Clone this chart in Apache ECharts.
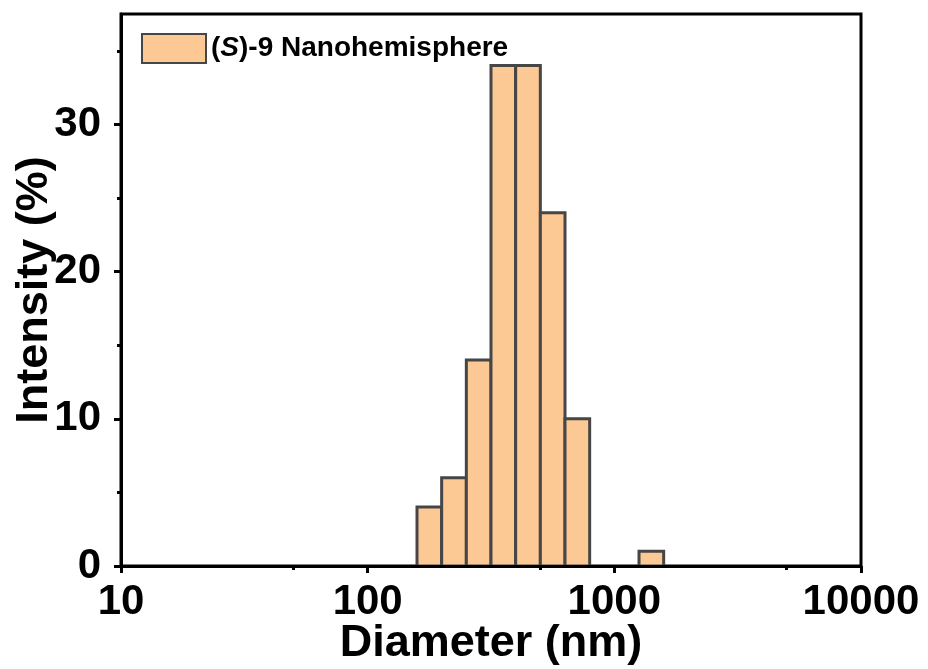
<!DOCTYPE html>
<html>
<head>
<meta charset="utf-8">
<script src="https://cdn.jsdelivr.net/npm/echarts@6/dist/echarts.min.js"></script>
<style>
  html, body { margin: 0; padding: 0; background: #fff; }
  #chart { width: 928px; height: 669px; }
</style>
</head>
<body>
<div id="chart"></div>
<script>
// Size distribution bins (diameter in nm, log-spaced) and intensity in %
const binLower = [158.5, 199.5, 251.2, 316.2, 398.1, 501.2, 631.0, 1259];
const binUpper = [199.5, 251.2, 316.2, 398.1, 501.2, 631.0, 794.3, 1585];
const intensity = [4, 6, 14, 34, 34, 24, 10, 1];

const xMajorTicks = [10, 100, 1000, 10000];
const xMinorTicks = [50, 500, 5000];
const yMajorTicks = [0, 10, 20, 30];
const yMinorTicks = [5, 15, 25, 35];

const seriesName = '(S)-9 Nanohemisphere';

const FONT = '"Liberation Sans", Arial, Helvetica, sans-serif';
const FILL = '#FCC995';
const EDGE = '#464646';

const histData = intensity.map((v, i) => [binLower[i], binUpper[i], v]);

const chart = echarts.init(document.getElementById('chart'), null, { renderer: 'canvas' });

const tickStyle = { color: '#000', width: 3 };

chart.setOption({
  animation: false,
  backgroundColor: '#fff',
  grid: {
    left: 121, right: 67, top: 14, bottom: 103,
    containLabel: false, outerBoundsMode: 'none',
    show: true, borderColor: '#000', borderWidth: 3, backgroundColor: 'transparent'
  },
  legend: {
    left: 141, top: 33, padding: 0,
    itemWidth: 64, itemHeight: 29,
    icon: 'rect',
    data: [seriesName],
    formatter: () => '({it|S})-9 Nanohemisphere',
    textStyle: {
      fontFamily: FONT, fontWeight: 'bold', fontSize: 28, color: '#000',
      rich: { it: { fontFamily: FONT, fontWeight: 'bold', fontStyle: 'italic', fontSize: 28, color: '#000' } }
    }
  },
  xAxis: [
    {
      type: 'log', logBase: 10, min: 10, max: 10000, z: 5,
      name: 'Diameter (nm)', nameLocation: 'middle', nameGap: 55, nameMoveOverlap: false,
      nameTextStyle: { fontFamily: FONT, fontWeight: 'bold', fontSize: 45, color: '#000' },
      axisLine: { show: true, lineStyle: { color: '#000', width: 3 } },
      axisTick: { show: true, inside: false, length: 7, lineStyle: tickStyle, customValues: xMajorTicks },
      axisLabel: {
        margin: 15, customValues: xMajorTicks, formatter: v => String(Math.round(v)),
        fontFamily: FONT, fontWeight: 'bold', fontSize: 42, color: '#000'
      },
      splitLine: { show: false }
    },
    {
      type: 'log', logBase: 10, min: 10, max: 10000, position: 'bottom', z: 5,
      axisLine: { show: false },
      axisTick: { show: true, length: 4, lineStyle: tickStyle, customValues: xMinorTicks },
      axisLabel: { show: false },
      splitLine: { show: false }
    }
  ],
  yAxis: [
    {
      type: 'value', min: 0, max: 37.5, z: 5,
      name: 'Intensity (%)', nameLocation: 'middle', nameGap: 64, nameMoveOverlap: false,
      nameTextStyle: { fontFamily: FONT, fontWeight: 'bold', fontSize: 45, color: '#000' },
      axisLine: { show: true, lineStyle: { color: '#000', width: 3 } },
      axisTick: { show: true, inside: false, length: 7, lineStyle: tickStyle, customValues: yMajorTicks },
      axisLabel: {
        margin: 20, customValues: yMajorTicks,
        fontFamily: FONT, fontWeight: 'bold', fontSize: 42, color: '#000'
      },
      splitLine: { show: false }
    },
    {
      type: 'value', min: 0, max: 37.5, position: 'left', z: 5,
      axisLine: { show: false },
      axisTick: { show: true, length: 4, lineStyle: tickStyle, customValues: yMinorTicks },
      axisLabel: { show: false },
      splitLine: { show: false }
    }
  ],
  series: [
    {
      name: seriesName,
      type: 'custom',
      xAxisIndex: 0, yAxisIndex: 0,
      itemStyle: { color: FILL, borderColor: EDGE, borderWidth: 3 },
      encode: { x: [0, 1], y: 2 },
      data: histData,
      renderItem: (params, api) => {
        const p0 = api.coord([api.value(0), 0]);
        const p1 = api.coord([api.value(1), api.value(2)]);
        return {
          type: 'rect',
          shape: { x: p0[0], y: p1[1], width: p1[0] - p0[0], height: p0[1] - p1[1] },
          style: { fill: FILL, stroke: EDGE, lineWidth: 3 }
        };
      }
    }
  ]
});
</script>
</body>
</html>
